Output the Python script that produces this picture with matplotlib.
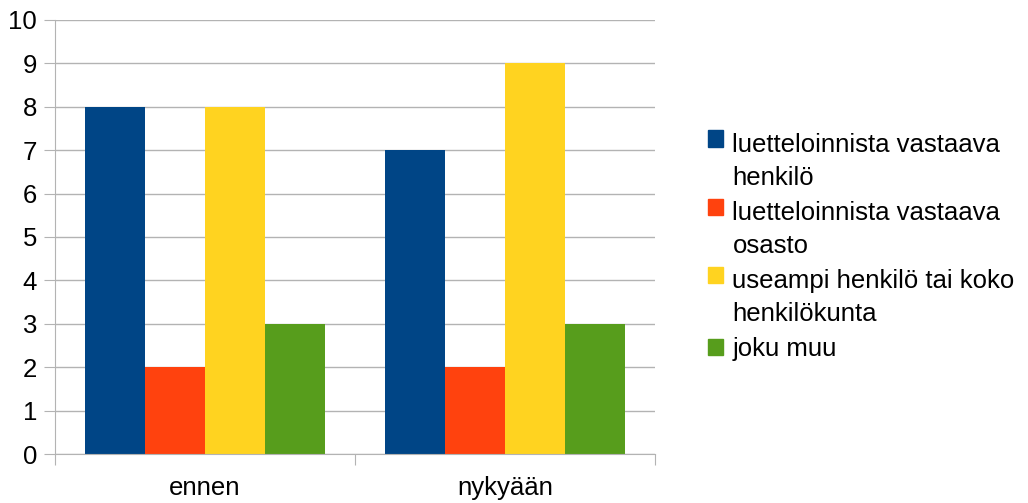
import numpy as np
import matplotlib
matplotlib.use('Agg')
import matplotlib.pyplot as plt
from matplotlib.patches import Patch, Rectangle
from matplotlib.legend_handler import HandlerPatch

groups = ['ennen', 'nykyään']
series = ['luetteloinnista vastaava\nhenkilö',
          'luetteloinnista vastaava\nosasto',
          'useampi henkilö tai koko\nhenkilökunta',
          'joku muu']
henkilo = [8, 7]
osasto = [2, 2]
useampi = [8, 9]
muu = [3, 3]
colors = ['#004586', '#ff420e', '#ffd320', '#579d1c']

plt.rcParams['font.family'] = ['Liberation Sans', 'DejaVu Sans']
plt.rcParams['font.size'] = 18.5

fig = plt.figure(figsize=(10.28, 5.03), dpi=100)
ax = fig.add_axes([55 / 1028, 1 - 454 / 503, 600 / 1028, 434 / 503])

x = np.arange(len(groups))
w = 0.2
for i, (vals, c) in enumerate(zip([henkilo, osasto, useampi, muu], colors)):
    ax.bar(x + (i - 1.5) * w, vals, w, color=c, zorder=2)

grey = '#b3b3b3'
ax.set_xlim(-0.5, 1.5)
ax.set_ylim(0, 10)
ax.set_yticks(range(11))
ax.yaxis.grid(True, color=grey, lw=1)
ax.set_axisbelow(True)

# group separators as major ticks, names as minor ticks
ax.set_xticks([-0.5, 0.5, 1.5])
ax.set_xticklabels([])
ax.set_xticks(x, minor=True)
ax.set_xticklabels(groups, minor=True)
ax.tick_params(axis='x', which='minor', length=0, pad=16)
ax.tick_params(axis='x', which='major', length=8, color=grey)
ax.tick_params(axis='y', length=8, color=grey, pad=5)

for s in ['top', 'right']:
    ax.spines[s].set_visible(False)
for s in ['left', 'bottom']:
    ax.spines[s].set_color(grey)


def square(legend, orig_handle, xdescent, ydescent, width, height, fontsize):
    # keep the swatch next to the first line of two-line labels
    lift = 0.9 * fontsize if '\n' in orig_handle.get_label() else 0
    return Rectangle((-xdescent, -ydescent + lift), width, height)


handles = [Patch(color=c, label=s) for c, s in zip(colors, series)]
leg = fig.legend(handles=handles, loc='upper left',
                 bbox_to_anchor=(708 / 1028, 1 - 133 / 503),
                 frameon=False, borderpad=0, borderaxespad=0,
                 handlelength=0.6, handleheight=0.6,
                 handletextpad=0.35, labelspacing=0.45,
                 handler_map={Patch: HandlerPatch(patch_func=square)})
for t in leg.get_texts():
    t.set_linespacing(1.45)

fig.savefig('out.png', dpi=100)
